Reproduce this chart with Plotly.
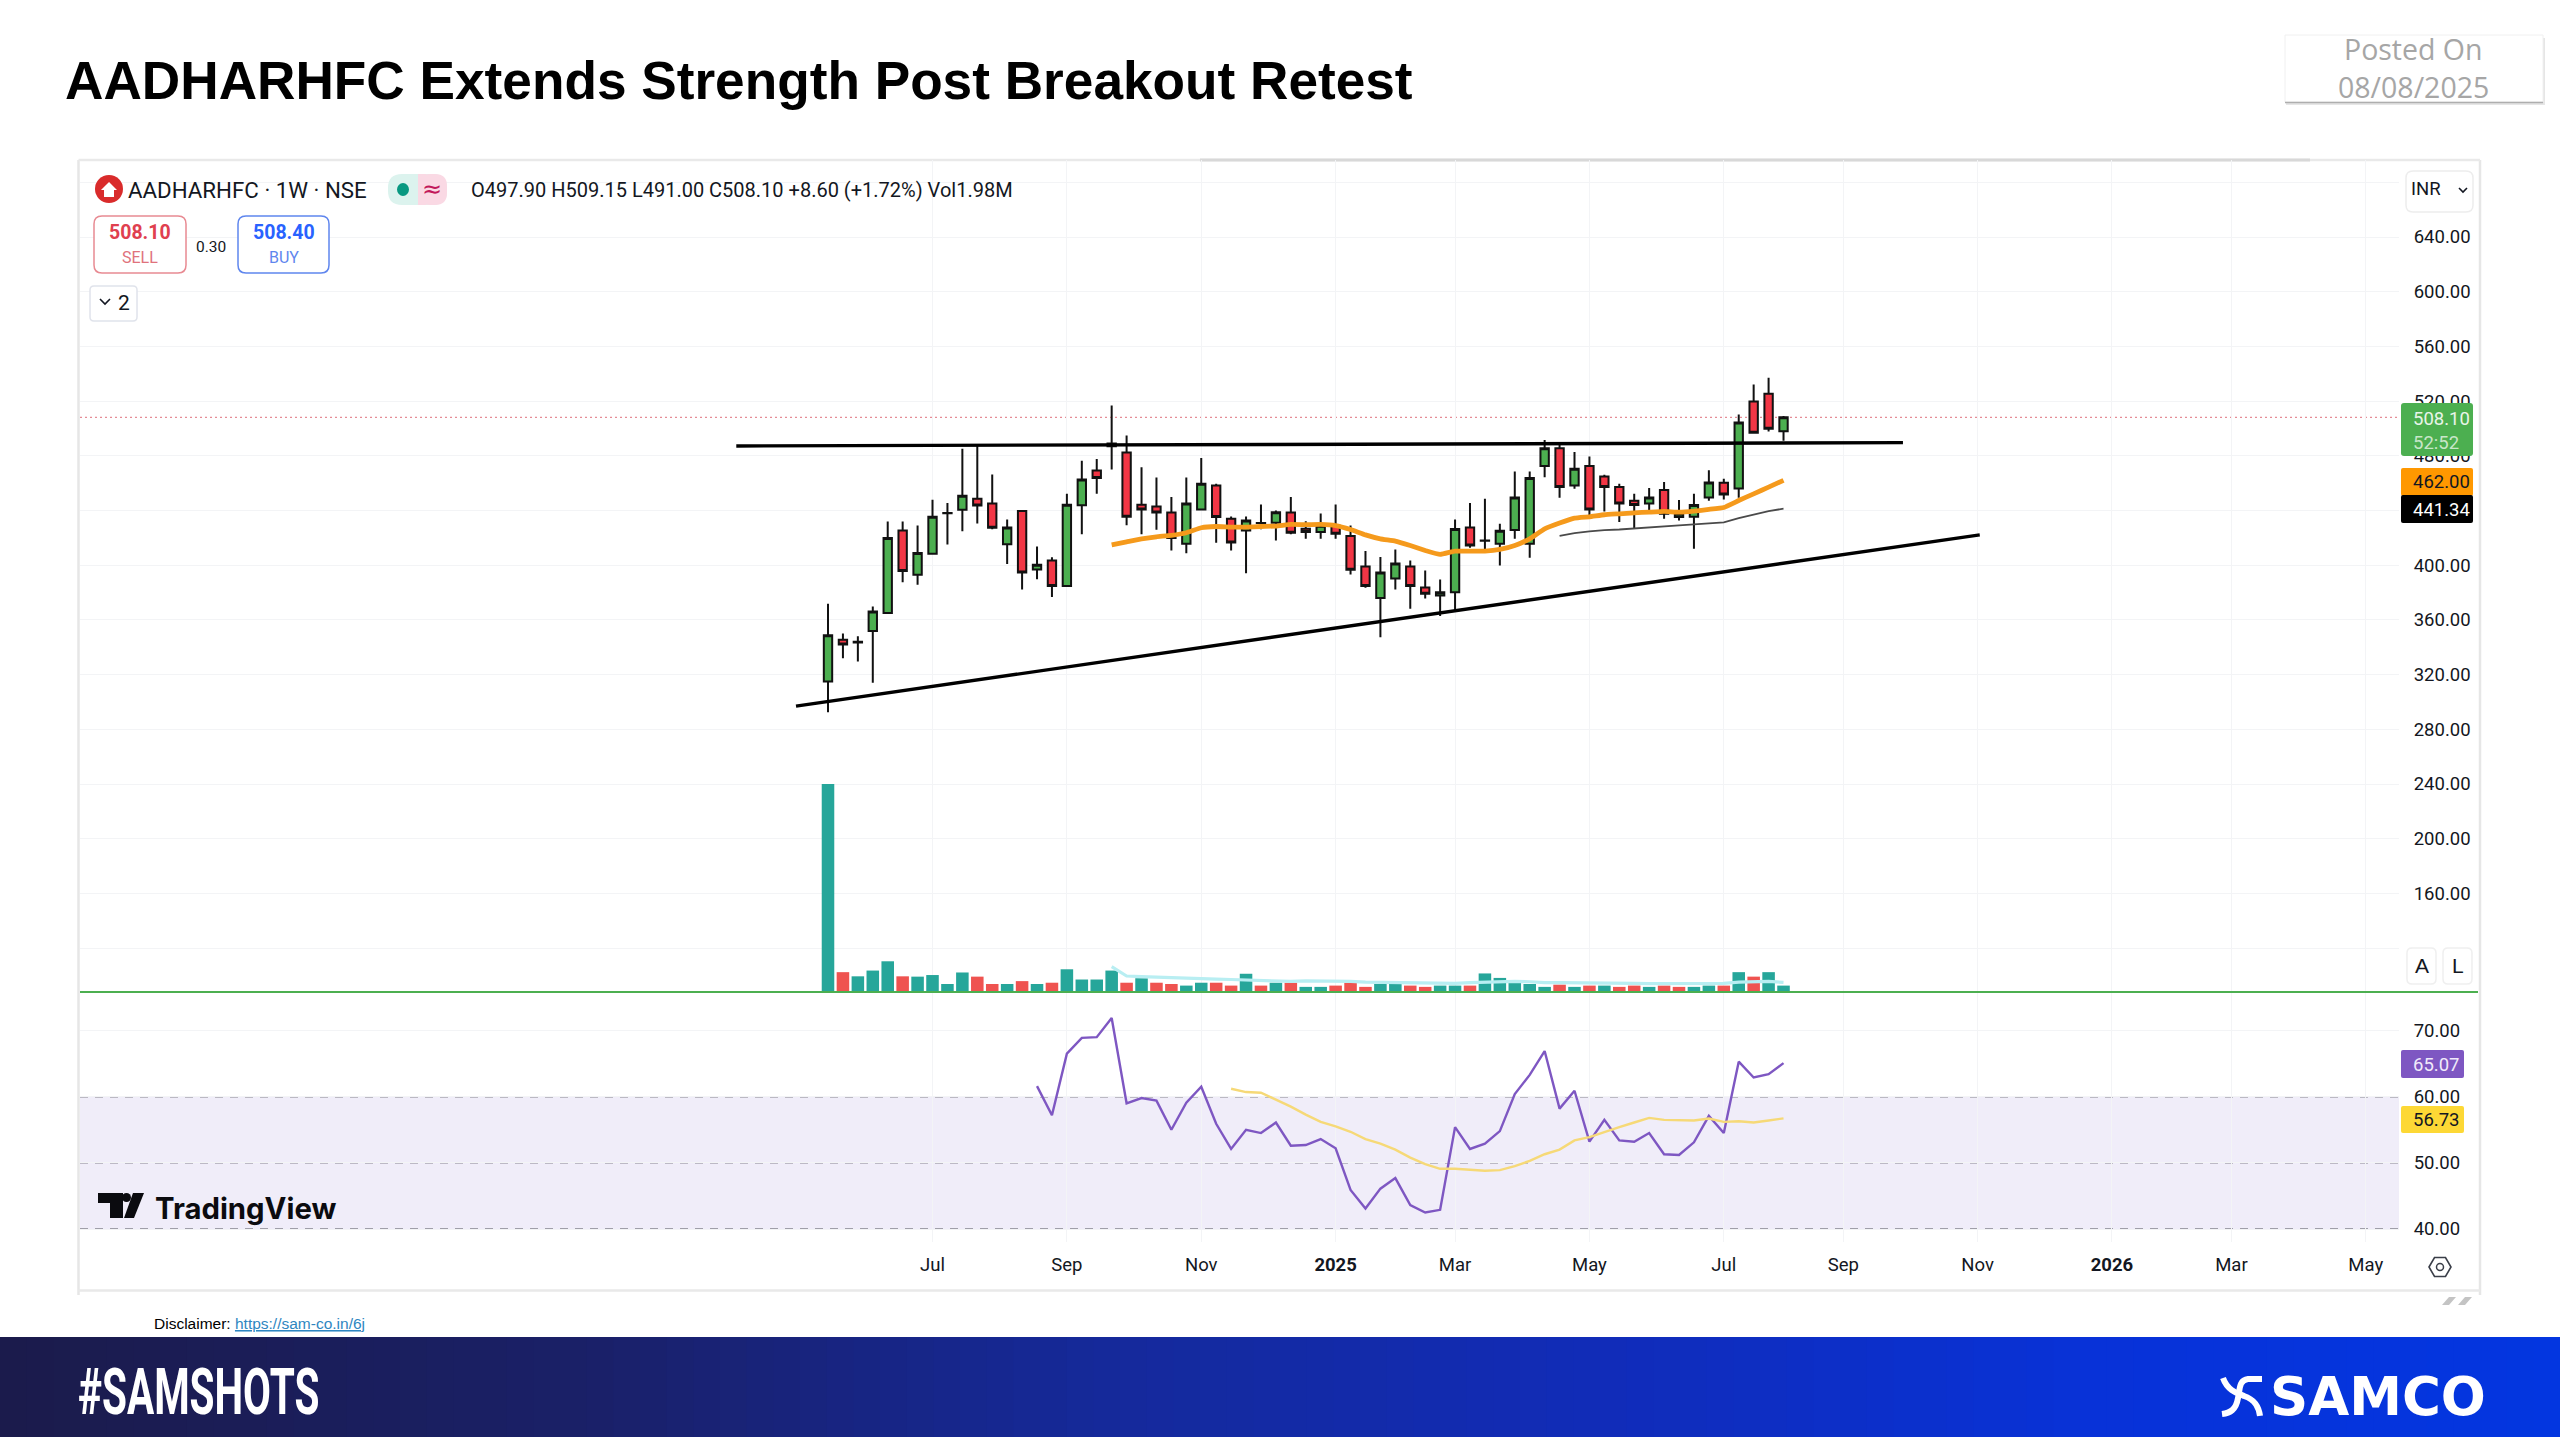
import pandas as pd
import plotly.graph_objects as go

# ---------- data ----------
first_week = "2024-05-13"
opens = [315,345.5,344,351.8,365,425.4,393,408.4,438,440.5,448.6,445.2,415.4,439.6,396.9,403.5,384.7,443.9,469.3,487,
         482.4,444.2,443,438.6,415.7,440.8,458.3,434,425.4,430.8,431,438.6,426.6,424.2,428.8,421.3,399.1,376,390.3,399.1,
         383.7,377.9,380.3,427.6,417.9,415.7,425.7,415.7,472.5,485.6,458.3,472.5,464.9,457.1,447.1,445.2,454.9,435.2,435.4,449.5,
         460.3,456.1,519.7,525.3,497.9]
highs = [371.8,350,348,369.8,432,432,429,447.8,445.4,485.1,487.6,466.4,433.5,439.6,413.7,405.9,452.2,476.4,477.6,516.8,
         494.9,471.7,464.2,449.8,464.2,478.3,459.5,435.7,435.7,444.4,440,449.8,432.2,437.8,444.4,429,410.3,406,411.5,403.5,
         396.2,389.6,433.5,445.4,448.6,430.3,468.6,468.6,491.5,488.5,482.7,479.5,466.1,459.5,452.2,456.4,460.8,447.6,452.2,469.5,
         463.2,510.2,532.2,537,509.15]
lows = [292.5,332,329.6,314,365,387.6,385.7,407.6,415.2,424.9,430.5,426.2,400.8,382.3,389.8,376.7,384.7,422.7,452.2,470,
        429.3,422.7,425.9,410.8,408.8,440.8,416.4,410.8,394.2,426.2,418,422.7,419.3,419.3,419.3,393.2,383.5,347.4,382.3,368.2,
        375.7,362.8,367,412.7,409.6,399.8,419.3,405.4,464.4,449.3,455.9,436.4,439.3,431.5,426.6,437.4,434,432.7,412,447.1,
        448.1,449.3,496.8,497.8,491]
closes = [348.7,342,343.5,366.2,419.8,395.7,409,435.4,438.2,450.8,443.7,427.4,427.6,394.7,400.3,384.7,444.2,462.7,463.7,489,
          435.4,440.8,438.6,419.8,445.2,459.5,435.2,416.6,432.7,430.9,438.8,423.7,424.2,428.8,423,396.7,384.7,394.7,401.3,384.7,
          379.1,380.3,426.4,414.4,418,425.2,449.5,463.7,485.6,457.1,470.5,440.8,457.1,445.2,444,449.5,437.6,437.6,444,460.5,
          451.7,504.4,496.8,499.7,508.1]
volume_m = [65.0,6.2,4.9,6.7,9.6,4.9,4.8,5.3,2.5,6.1,4.8,2.5,2.5,3.4,2.5,2.9,7.1,3.9,3.9,6.7,
            2.9,4.3,2.9,2.5,2.0,2.9,2.9,2.0,5.7,2.0,2.9,2.9,1.6,1.6,2.0,2.9,1.6,2.5,2.5,2.0,
            1.6,2.0,2.0,2.0,5.8,4.4,3.4,2.5,1.6,2.3,1.6,2.0,2.0,1.6,2.0,1.6,2.0,1.6,1.6,2.0,
            2.0,6.2,4.8,6.2,2.0]
volume_dir = list("UDUUUDUUUUDDUDUDUUUUDUDDUUDDUDUDUUDDDUUDDUUDUUUUUDUDUDDUDDUUDUDUU")
volume_ma_start = 19
volume_ma = [7.9,5.0,4.8,4.6,4.4,4.2,4.1,4.0,3.9,3.8,3.5,3.4,3.3,3.5,3.5,3.5,3.3,3.1,3.0,3.0,2.8,2.7,2.7,2.7,2.9,3.1,3.2,3.3,3.2,2.9,
             2.9,2.9,2.9,2.9,2.8,2.7,2.6,2.6,2.6,2.6,2.7,2.7,3.1,3.2,3.3,3.0]
ema_start = 19
ema_fast = [414.9,417.1,419.3,420.8,421.8,423.7,427.4,428.3,427.8,427.8,428.3,428.6,429.8,429.6,429.8,429,426.1,422.2,419.3,417.6,
            414.4,410.8,407.9,410.3,410.3,410.3,411.5,414.4,419.3,426.6,430.8,434.4,435.4,436.9,437.6,438.3,438.8,439.3,438.8,439.5,
            440.8,442.2,447.3,452.2,457.1,462]
ema_slow_start = 49
ema_slow = [421.5,423.4,424.7,425.7,426.1,426.9,427.9,428.8,429.1,429.8,430.5,431.3,434.4,436.9,439.6,441.34]
rsi_start = 14
rsi = [61.6,57.2,66.5,68.9,69,71.9,59,59.8,59.4,55,59.1,61.5,55.9,52.1,55,54.5,56.1,52.6,52.7,53.6,52.2,45.9,43.1,46.1,47.7,43.6,42.5,42.9,
       55.4,52.1,52.9,54.8,60.4,63.3,66.9,58.2,60.9,53.2,56.5,53.4,53.2,54.5,51.3,51.2,53.1,57.1,54.5,65.3,62.9,63.4,65.07]
rsi_ma_start = 27
rsi_ma = [61.2,60.7,60.6,59.6,58.5,57.3,56.2,55.5,54.7,53.6,52.9,52,50.8,49.8,49.1,49.1,49,48.8,48.9,49.5,50.3,51.3,52,53.4,53.9,54.7,55.4,56.1,56.8,
          56.5,56.4,56.4,56.7,56.2,56.3,56.1,56.4,56.73]
resistance_dates = ["2024-03-31", "2025-09-29"]
resistance_prices = [487.2, 489.6]
support_dates = ["2024-04-28", "2025-11-04"]
support_prices = [296.9, 422.2]
month_ticks = ["2024-07-01","2024-09-02","2024-11-04","2025-01-06","2025-03-03","2025-05-05","2025-07-07","2025-09-01","2025-11-03","2026-01-05","2026-03-02","2026-05-04"]
month_labels = ["Jul","Sep","Nov","<b>2025</b>","Mar","May","Jul","Sep","Nov","<b>2026</b>","Mar","May"]
price_ticks = [120,160,200,240,280,320,360,400,440,480,520,560,600,640,680]
price_labels = ["","160.00","200.00","240.00","280.00","320.00","360.00","400.00","440.00","480.00","520.00","560.00","600.00","640.00",""]
rsi_ticks = [40,50,60,70]
rsi_labels = ["40.00","50.00","60.00","70.00"]

# ---------- style / layout ----------
W, H = 2560, 1440
UI = "Roboto"
ARIAL = "Liberation Sans"
X0, X1 = 80, 2399
PANE_TOP, PANE_BOT, RSI_BOT = 160, 992, 1242
INK = "#131722"
GREEN, RED, TEAL, VRED = "#4CAF50", "#F23645", "#26A69A", "#EF5350"

dates = pd.date_range(first_week, periods=len(closes), freq="7D")
px_per_day = 14.93 / 7
range_start = dates[0] - pd.Timedelta(days=(828 - X0) / px_per_day)
range_end = dates[0] + pd.Timedelta(days=(X1 - 828) / px_per_day)

def xp(x): return x / W
def yp(y): return 1 - y / H

shapes, notes = [], []

def rect(x0, y0, x1, y1, fill="rgba(0,0,0,0)", line=None, lw=1, layer="above"):
    shapes.append(dict(type="rect", xref="paper", yref="paper", x0=xp(x0), x1=xp(x1), y0=yp(y0), y1=yp(y1),
                       fillcolor=fill, line=dict(color=line or "rgba(0,0,0,0)", width=lw if line else 0), layer=layer))

def seg(x0, y0, x1, y1, color, lw=1, layer="above"):
    shapes.append(dict(type="line", xref="paper", yref="paper", x0=xp(x0), x1=xp(x1), y0=yp(y0), y1=yp(y1),
                       line=dict(color=color, width=lw), layer=layer))

def path(pts, fill=None, line=None, lw=1, close=True):
    d = "M " + " L ".join(f"{xp(a):.5f} {yp(b):.5f}" for a, b in pts) + (" Z" if close else "")
    shapes.append(dict(type="path", xref="paper", yref="paper", path=d, fillcolor=fill or "rgba(0,0,0,0)",
                       line=dict(color=line or "rgba(0,0,0,0)", width=lw if line else 0), layer="above"))

def rpath(svg, fill=None, line=None, lw=1):
    out, isx = [], True
    for t in svg.split():
        if t.isalpha():
            out.append(t); isx = True
        else:
            out.append(f"{xp(float(t)):.5f}" if isx else f"{yp(float(t)):.5f}"); isx = not isx
    shapes.append(dict(type="path", xref="paper", yref="paper", path=" ".join(out), fillcolor=fill or "rgba(0,0,0,0)",
                       line=dict(color=line or "rgba(0,0,0,0)", width=lw if line else 0), layer="above"))

def rrect(x0, y0, x1, y1, r, fill, line, lw=1.5):
    rpath(f"M {x0+r} {y0} L {x1-r} {y0} Q {x1} {y0} {x1} {y0+r} L {x1} {y1-r} Q {x1} {y1} {x1-r} {y1} "
          f"L {x0+r} {y1} Q {x0} {y1} {x0} {y1-r} L {x0} {y0+r} Q {x0} {y0} {x0+r} {y0} Z", fill, line, lw)

def txt(x, y, s, size, color=INK, anchor="left", font=UI):
    notes.append(dict(xref="paper", yref="paper", x=xp(x), y=yp(y), text=s, showarrow=False, xanchor=anchor, yanchor="middle",
                      font=dict(family=font, size=size, color=color), borderpad=0, borderwidth=0))

# Footer gradient band
stops = [(0, (27, 27, 75)), (0.23, (26, 32, 104)), (0.43, (21, 41, 154)), (0.625, (17, 44, 184)), (0.82, (8, 50, 216)), (1, (3, 54, 224))]
def mix(t):
    for (a, ca), (b, cb) in zip(stops, stops[1:]):
        if t <= b:
            f = (t - a) / (b - a)
            return "rgb(%d,%d,%d)" % tuple(round(p + (q - p) * f) for p, q in zip(ca, cb))
    return "rgb(3,54,224)"
SLICES = 96
for i in range(SLICES):
    rect(i * W / SLICES, 1337, (i + 1) * W / SLICES + 1, 1437, fill=mix((i + .5) / SLICES), layer="below")

# Panel frame
seg(78.5, 160, 78.5, 1295, "#E6E6E6", 2.5, "below")
seg(2480, 160, 2480, 1295, "#E6E6E6", 2.5, "below")
seg(78.5, 160, 2480, 160, "#E9E9E9", 2.5, "below")
seg(78.5, 1290.5, 2480, 1290.5, "#E9E9E9", 2.5, "below")
seg(1200, 160, 2310, 160, "#D8D8D8", 3, "below")
path([(2442, 1305), (2449, 1297), (2456, 1297), (2449, 1305)], fill="#C4C4C4")
path([(2458, 1305), (2465, 1297), (2472, 1297), (2465, 1305)], fill="#C4C4C4")

# RSI band and levels
shapes.append(dict(type="rect", xref="paper", yref="y3", x0=xp(X0), x1=xp(X1), y0=rsi_ticks[0], y1=rsi_ticks[2],
                   fillcolor="#F0EDF9", line=dict(width=0), layer="below"))
for lvl, col in zip(rsi_ticks[:3], ["#85858E", "#ABA8B4", "#85858E"]):
    shapes.append(dict(type="line", xref="paper", yref="y3", x0=xp(X0), x1=xp(X1), y0=lvl, y1=lvl,
                       line=dict(color=col, width=1.6, dash="8px,7px"), layer="below"))

# Last-price dotted line
shapes.append(dict(type="line", xref="paper", yref="y2", x0=xp(X0), x1=xp(X1), y0=closes[-1], y1=closes[-1],
                   line=dict(color="#E58C96", width=1.4, dash="2px,3px"), layer="below"))
# Volume baseline
seg(X0, 992, 2478, 992, GREEN, 2, "above")

# Title and posted box
txt(65, 80, "<b>AADHARHFC Extends Strength Post Breakout Retest</b>", 53.2, "#000000", font=ARIAL)
rect(2286, 38, 2545, 105, fill="#E6E6E6")
rect(2285, 35, 2543, 102, fill="#FFFFFF", line="#F0F0F0", lw=1)
seg(2285, 102.5, 2543, 102.5, "#AEAEAE", 1.5)
txt(2413, 49, "Posted On", 28.5, "#A6A6A6", "center", "Open Sans")
txt(2413, 87, "08/08/2025", 28.5, "#A6A6A6", "center", "Open Sans")

# Legend row
shapes.append(dict(type="circle", xref="paper", yref="paper", x0=xp(95), x1=xp(123), y0=yp(203), y1=yp(175),
                   fillcolor="#D92B2B", line=dict(width=0), layer="above"))
path([(101, 190), (109, 182), (117, 190), (114, 190), (114, 197), (104, 197), (104, 190)], fill="#FFFFFF")
txt(128, 190, "AADHARHFC · 1W · NSE", 22.3)
rrect(388, 174, 447, 205, 14, "#DCF3EE", None)
rrect(418, 174, 447, 205, 12, "#FAD9E4", None)
rect(418, 174, 426, 205, fill="#FAD9E4")
shapes.append(dict(type="circle", xref="paper", yref="paper", x0=xp(397), x1=xp(409), y0=yp(196), y1=yp(183),
                   fillcolor="#089981", line=dict(width=0), layer="above"))
txt(432, 189, "≈", 24, "#C2185B", "center", "DejaVu Sans")
txt(471, 190, "O497.90 H509.15 L491.00 C508.10 +8.60 (+1.72%) Vol1.98M", 20)
rrect(94, 216, 186, 273, 8, "#FFFFFF", "#E88A92")
txt(140, 233, "<b>508.10</b>", 19.5, "#E0404F", "center")
txt(140, 257, "SELL", 16, "#E0727C", "center")
txt(211, 247, "0.30", 15.5, INK, "center")
rrect(238, 216, 329, 273, 8, "#FFFFFF", "#5F86EE")
txt(284, 233, "<b>508.40</b>", 19.5, "#2962FF", "center")
txt(284, 257, "BUY", 16, "#5F86EE", "center")
rrect(90, 286, 137, 321, 4, "#FFFFFF", "#E0E3EB")
path([(100, 299), (105, 304), (110, 299)], line=INK, lw=1.6, close=False)
txt(124, 303, "2", 21, INK, "center")

# Right rail
rrect(2406, 171, 2473, 212, 7, "#FFFFFF", "#EDEDED")
txt(2411, 189, "INR", 18.5)
path([(2459, 188), (2463, 192), (2467, 188)], line=INK, lw=1.6, close=False)
rrect(2401, 403, 2473, 456, 3, GREEN, None)
txt(2413, 419, "508.10", 18.5, "#E8F5E9")
txt(2413, 443, "52:52", 18.5, "#C8E6C9")
rrect(2401, 468, 2473, 496, 2, "#FF9800", None)
txt(2413, 482, "462.00", 18.5, "#131722")
rrect(2401, 495, 2473, 523, 2, "#000000", None)
txt(2413, 510, "441.34", 18.5, "#FFFFFF")
rrect(2401, 1050, 2464, 1078, 2, "#7E57C2", None)
txt(2413, 1065, "65.07", 18.5, "#F0EAFA")
rrect(2401, 1106, 2464, 1133, 2, "#FDD835", None)
txt(2413, 1120, "56.73", 18.5, "#131722")
rrect(2407, 948, 2436, 984, 5, "#FFFFFF", "#EFEFEF")
txt(2421.5, 966, "A", 21, INK, "center", ARIAL)
rrect(2443, 948, 2472, 984, 5, "#FFFFFF", "#EFEFEF")
txt(2457.5, 966, "L", 21, INK, "center", ARIAL)
path([(2429, 1267), (2434.5, 1257.5), (2445.5, 1257.5), (2451, 1267), (2445.5, 1276.5), (2434.5, 1276.5)], line="#3A3E48", lw=1.6)
shapes.append(dict(type="circle", xref="paper", yref="paper", x0=xp(2436.5), x1=xp(2443.5), y0=yp(1270.5), y1=yp(1263.5),
                   line=dict(color="#3A3E48", width=1.5), layer="above"))

# TradingView mark
path([(98, 1193), (123, 1193), (123, 1218), (110, 1218), (110, 1203), (98, 1203)], fill="#0B0B0F")
shapes.append(dict(type="circle", xref="paper", yref="paper", x0=xp(122), x1=xp(131), y0=yp(1202), y1=yp(1193),
                   fillcolor="#0B0B0F", line=dict(width=0), layer="above"))
path([(133, 1193), (144, 1193), (134, 1218), (124, 1218)], fill="#0B0B0F")
txt(155, 1208, "<b>TradingView</b>", 29.3, "#0B0B0F", font="Inter")

# Footer text
txt(154, 1323, 'Disclaimer: <span style="color:#2E86C1"><u>https://sam-co.in/6j</u></span>', 15.5, "#000000", font=ARIAL)
txt(78, 1392, "<b>#SAMSHOTS</b>", 40.5, "#FFFFFF")
txt(2270, 1396, "<b>SAMCO</b>", 53, "#FFFFFF", font="DejaVu Sans")
# SAMCO mark
for d in ["M 2223 1378 C 2228 1392 2240 1394 2244 1396 C 2256 1400 2259 1408 2260 1416",
          "M 2262 1379 L 2248 1379 C 2238 1380 2240 1392 2238 1398 C 2236 1410 2230 1413 2222 1414"]:
    rpath(d, None, "#FFFFFF", 6)

# ---------- traces ----------
fig = go.Figure()
fig.add_trace(go.Bar(x=dates, y=volume_m, marker=dict(color=[TEAL if d == "U" else VRED for d in volume_dir], line=dict(width=0)),
                     width=7 * 24 * 3600 * 1000 * 0.84, xaxis="x", yaxis="y", name="Volume", hoverinfo="skip"))
fig.add_trace(go.Scatter(x=dates[volume_ma_start:], y=volume_ma, mode="lines", line=dict(color="#B8EEF2", width=3.2),
                         xaxis="x", yaxis="y", name="Volume MA", hoverinfo="skip"))
fig.add_trace(go.Candlestick(x=dates, open=opens, high=highs, low=lows, close=closes, xaxis="x", yaxis="y2", name="Price",
                             whiskerwidth=0,
                             increasing=dict(line=dict(color="#111111", width=2), fillcolor=GREEN),
                             decreasing=dict(line=dict(color="#111111", width=2), fillcolor=RED)))
fig.add_trace(go.Scatter(x=dates[ema_start:], y=ema_fast, mode="lines", line=dict(color="#F59A1C", width=4.8, shape="spline", smoothing=0.3),
                         xaxis="x", yaxis="y2", name="EMA fast", hoverinfo="skip"))
fig.add_trace(go.Scatter(x=dates[ema_slow_start:], y=ema_slow, mode="lines", line=dict(color="#4A4A4A", width=1.8),
                         xaxis="x", yaxis="y2", name="EMA slow", hoverinfo="skip"))
fig.add_trace(go.Scatter(x=resistance_dates, y=resistance_prices, mode="lines", line=dict(color="#000000", width=3.4),
                         xaxis="x", yaxis="y2", name="Resistance", hoverinfo="skip"))
fig.add_trace(go.Scatter(x=support_dates, y=support_prices, mode="lines", line=dict(color="#000000", width=3.4),
                         xaxis="x", yaxis="y2", name="Support", hoverinfo="skip"))
fig.add_trace(go.Scatter(x=dates[rsi_start:], y=rsi, mode="lines", line=dict(color="#7E57C2", width=2.4),
                         xaxis="x", yaxis="y3", name="RSI", hoverinfo="skip"))
fig.add_trace(go.Scatter(x=dates[rsi_ma_start:], y=rsi_ma, mode="lines", line=dict(color="#F6D977", width=2.4),
                         xaxis="x", yaxis="y3", name="RSI MA", hoverinfo="skip"))

grid = "#F3F4F6"
pane = [yp(PANE_BOT), yp(PANE_TOP)]
price_lo, price_hi = 640 - (PANE_BOT - 237) / 1.3675, 640 + (237 - PANE_TOP) / 1.3675
rsi_lo, rsi_hi = 40 - (RSI_BOT - 1229) / 6.615, 40 + (1229 - PANE_BOT) / 6.615
axis_font = dict(family=UI, size=18.5, color=INK)

fig.update_layout(
    width=W, height=H, margin=dict(l=0, r=0, t=0, b=0), autosize=False,
    paper_bgcolor="#FFFFFF", plot_bgcolor="#FFFFFF", showlegend=False, boxgap=0.2, hovermode=False,
    shapes=shapes, annotations=notes,
    xaxis=dict(domain=[xp(X0), xp(X1)], anchor="y3", type="date", range=[range_start, range_end],
               tickmode="array", tickvals=month_ticks, ticktext=month_labels, tickfont=axis_font,
               showgrid=True, gridcolor=grid, gridwidth=1.2, zeroline=False, showline=False,
               ticks="outside", ticklen=6, tickcolor="rgba(0,0,0,0)", rangeslider=dict(visible=False)),
    yaxis=dict(domain=pane, anchor="x", range=[0, 260], visible=False, fixedrange=True),
    yaxis2=dict(domain=pane, anchor="x", overlaying="y", side="right", range=[price_lo, price_hi],
                tickmode="array", tickvals=price_ticks, ticktext=price_labels, tickfont=axis_font,
                showgrid=True, gridcolor=grid, gridwidth=1.2, zeroline=False, showline=False,
                ticks="outside", ticklen=10, tickcolor="rgba(0,0,0,0)"),
    yaxis3=dict(domain=[yp(RSI_BOT), yp(PANE_BOT)], anchor="x", side="right", range=[rsi_lo, rsi_hi],
                tickmode="array", tickvals=rsi_ticks, ticktext=rsi_labels, tickfont=axis_font,
                showgrid=True, gridcolor=grid, gridwidth=1.2, zeroline=False, showline=False,
                ticks="outside", ticklen=10, tickcolor="rgba(0,0,0,0)"),
)

# The footer hashtag is a tall condensed face in the reference; stretch the real text vertically to match.
stretch = """
document.body.style.margin='0';
document.querySelectorAll('.annotation-text').forEach(function(t){
  if (t.textContent.indexOf('#SAMSHOTS') === 0) {
    var b = t.getBBox(), cy = b.y + b.height / 2, s = 1.6;
    t.setAttribute('transform', 'translate(0,' + cy + ') scale(1,' + s + ') translate(0,' + (-cy) + ')');
  }
});
"""
fig.write_html("out.html", config=dict(displayModeBar=False), post_script=stretch)
